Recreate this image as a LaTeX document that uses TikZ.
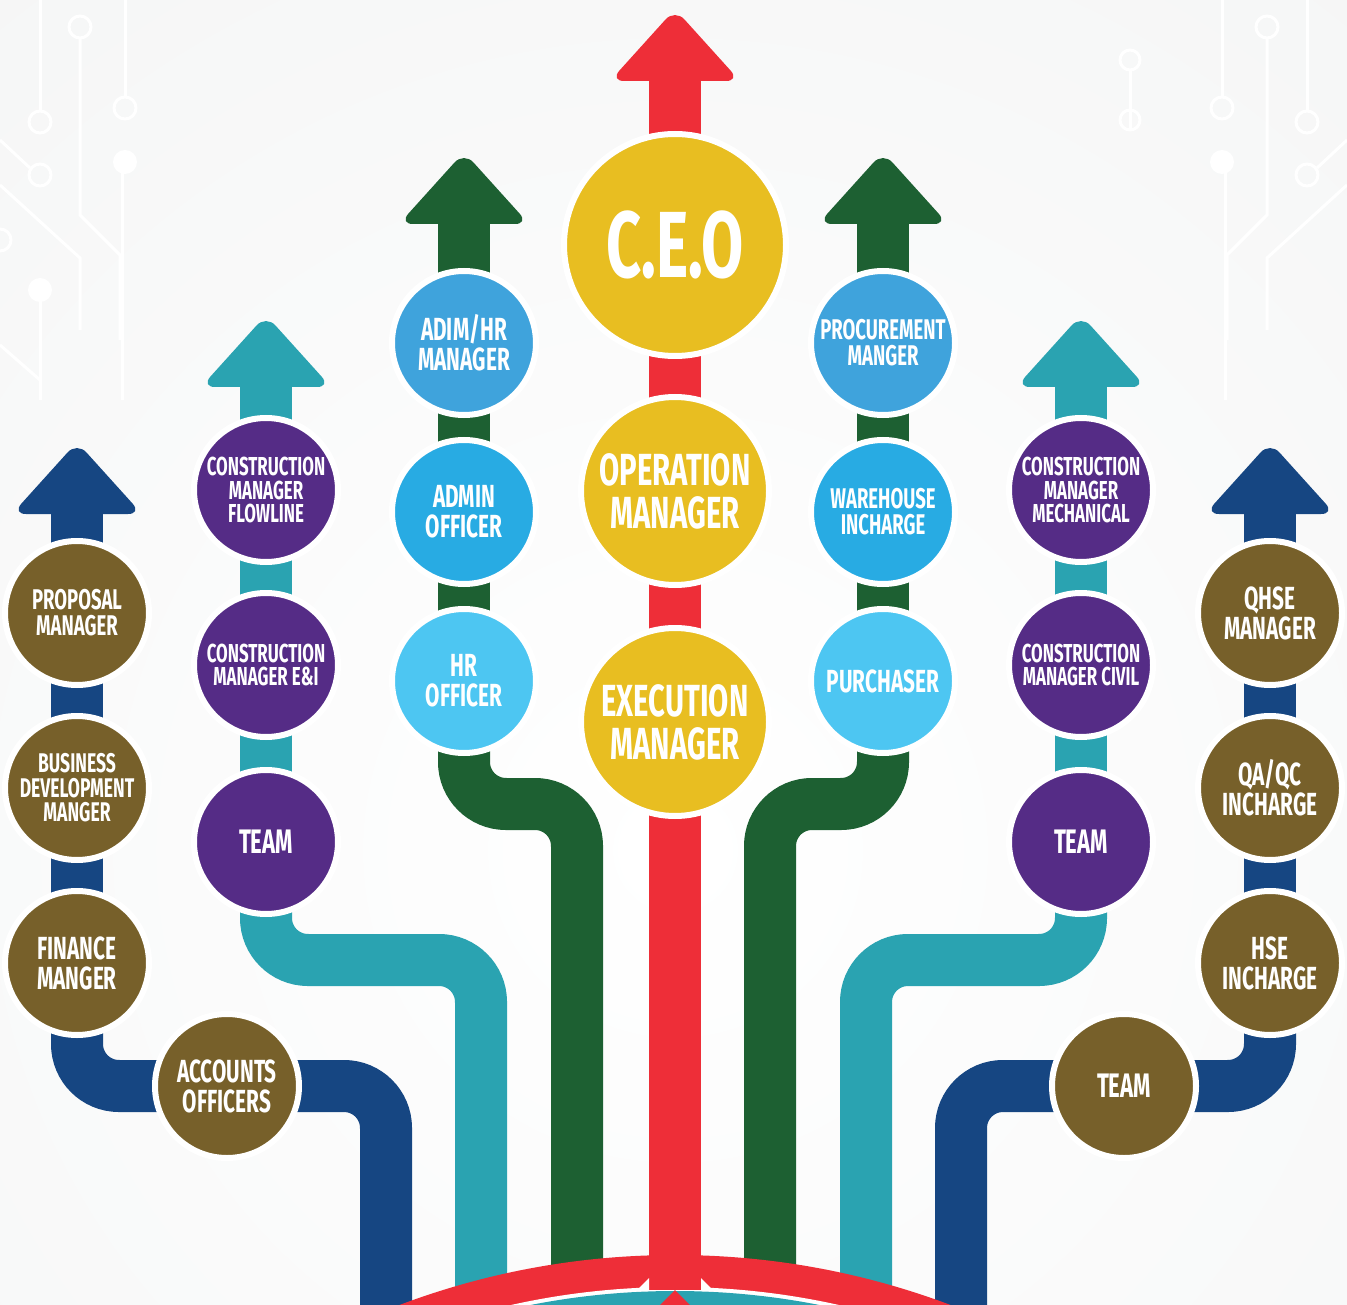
\documentclass[tikz,border=0pt]{standalone}
\usepackage{fontspec}
\newfontfamily\cf{Fira Sans}[FakeStretch=0.65]
\definecolor{bgc}{HTML}{F2F3F3}
\definecolor{navy}{HTML}{164682}
\definecolor{tealc}{HTML}{2AA3B1}
\definecolor{greenc}{HTML}{1D6032}
\definecolor{redc}{HTML}{EE2E38}
\definecolor{yell}{HTML}{E8BE21}
\definecolor{purp}{HTML}{552C86}
\definecolor{olv}{HTML}{77602A}
\definecolor{bluea}{HTML}{3FA3DC}
\definecolor{blueb}{HTML}{28ABE3}
\definecolor{bluec}{HTML}{4DC6F2}
\pgfdeclarelayer{bgl}
\pgfdeclarelayer{pipel}
\pgfsetlayers{bgl,pipel,main}
\tikzset{
  circ/.style={circle, inner sep=0pt, minimum size=144pt, draw=white, line width=6pt, text=white, align=center},
  txtA/.style={font=\cf\bfseries\fontsize{32}{30}\selectfont},
  txtT/.style={font=\cf\bfseries\fontsize{34}{30}\selectfont},
  txtB/.style={font=\cf\bfseries\fontsize{28.5}{26}\selectfont},
  txtC/.style={font=\cf\bfseries\fontsize{26}{23.5}\selectfont},
  txtD/.style={font=\cf\bfseries\fontsize{27}{24.5}\selectfont},
  pipe/.style={line width=52pt, line cap=butt, rounded corners=42pt},
  headshape/.style={rounded corners=14pt},
  trace/.style={white, line width=3pt},
}
\begin{document}
\begin{tikzpicture}[x=1pt,y=-1pt]
\useasboundingbox (0,0) rectangle (1347,1305);

% ---------- circles ----------
\node[circ, fill=olv, txtB] (prop) at (77,613) {PROPOSAL\\MANAGER};
\node[circ, fill=olv, txtD] (bdm) at (77,788) {BUSINESS\\DEVELOPMENT\\MANGER};
\node[circ, fill=olv, txtA] (fin) at (77,963) {FINANCE\\MANGER};
\node[circ, fill=olv, txtA] (acc) at (227,1086) {ACCOUNTS\\OFFICERS};

\node[circ, fill=purp, txtC] (cmf) at (266,490) {CONSTRUCTION\\MANAGER\\FLOWLINE};
\node[circ, fill=purp, txtC] (cme) at (266,665) {CONSTRUCTION\\MANAGER E\&I};
\node[circ, fill=purp, txtT] (teaml) at (266,842) {TEAM};

\node[circ, fill=bluea, txtA] (adhr) at (464,343) {ADIM/HR\\MANAGER};
\node[circ, fill=blueb, txtA] (admo) at (464,512) {ADMIN\\OFFICER};
\node[circ, fill=bluec, txtA] (hro) at (464,681) {HR\\OFFICER};

\node[circ, fill=yell, minimum size=222pt, font=\cf\bfseries\fontsize{94}{94}\selectfont] (ceo) at (675,245) {C.E.O};
\node[circ, fill=yell, minimum size=188pt, font=\cf\bfseries\fontsize{45}{43}\selectfont] (opm) at (675,491) {OPERATION\\MANAGER};
\node[circ, fill=yell, minimum size=188pt, font=\cf\bfseries\fontsize{45}{43}\selectfont] (exm) at (675,722) {EXECUTION\\MANAGER};

\node[circ, fill=bluea, txtB] (proc) at (883,343) {PROCUREMENT\\MANGER};
\node[circ, fill=blueb, txtB] (wh) at (883,512) {WAREHOUSE\\INCHARGE};
\node[circ, fill=bluec, txtA] (pur) at (883,681) {PURCHASER};

\node[circ, fill=purp, txtC] (cmm) at (1081,490) {CONSTRUCTION\\MANAGER\\MECHANICAL};
\node[circ, fill=purp, txtC] (cmc) at (1081,665) {CONSTRUCTION\\MANAGER CIVIL};
\node[circ, fill=purp, txtT] (teamr) at (1081,842) {TEAM};

\node[circ, fill=olv, txtA] (qhse) at (1270,613) {QHSE\\MANAGER};
\node[circ, fill=olv, txtA] (qaqc) at (1270,788) {QA/QC\\INCHARGE};
\node[circ, fill=olv, txtA] (hse) at (1270,963) {HSE\\INCHARGE};
\node[circ, fill=olv, txtT] (teamb) at (1124,1086) {TEAM};

% ---------- coordinates ----------
\coordinate (tL3) at (77,442);
\coordinate (tL2) at (266,315);
\coordinate (tL1) at (464,152);
\coordinate (tC) at (675,9);
\coordinate (tR1) at (883,152);
\coordinate (tR2) at (1081,315);
\coordinate (tR3) at (1270,442);
\coordinate (bL3) at (386,1305);
\coordinate (jL2) at (481,960);
\coordinate (bL2) at (481,1305);
\coordinate (jL1) at (577,804);
\coordinate (bL1) at (577,1305);
\coordinate (bC) at (675,1305);
\coordinate (jR1) at (770,804);
\coordinate (bR1) at (770,1305);
\coordinate (jR2) at (866,960);
\coordinate (bR2) at (866,1305);
\coordinate (bR3) at (961,1305);

% ---------- background ----------
\begin{pgfonlayer}{bgl}
  \fill[bgc] (0,0) rectangle (1347,1305);
  \begin{scope}
    \clip (0,0) rectangle (1347,1305);
    \shade[inner color=white, outer color=bgc] (675,850) circle (1500);
    % faint circuit traces, top left
    \draw[trace] (40,0) -- (40,110); \draw[trace] (40,122) circle (11);
    \draw[trace] (80,38) -- (80,215) -- (120,255) -- (120,340); \draw[trace] (80,27) circle (11);
    \draw[trace] (125,0) -- (125,97); \draw[trace] (125,108) circle (11);
    \fill[white] (125,162) circle (12); \draw[trace] (122,162) -- (122,400);
    \draw[trace] (0,140) -- (30,168); \draw[trace] (40,175) circle (11);
    \draw[trace] (0,185) -- (80,258) -- (80,330);
    \draw[trace] (0,240) circle (11);
    \fill[white] (40,290) circle (12); \draw[trace] (40,290) -- (40,400);
    \draw[trace] (0,345) -- (40,380);
    % faint circuit traces, top right
    \draw[trace] (1307,0) -- (1307,110); \draw[trace] (1307,122) circle (11);
    \draw[trace] (1267,38) -- (1267,215) -- (1227,255) -- (1227,340); \draw[trace] (1267,27) circle (11);
    \draw[trace] (1222,0) -- (1222,97); \draw[trace] (1222,108) circle (11);
    \fill[white] (1222,162) circle (12); \draw[trace] (1225,162) -- (1225,400);
    \draw[trace] (1347,140) -- (1317,168); \draw[trace] (1307,175) circle (11);
    \draw[trace] (1347,185) -- (1267,258) -- (1267,330);
    \draw[trace] (1130,60) circle (10); \draw[trace] (1130,70) -- (1130,130);
    \draw[trace] (1130,120) circle (10);
  \end{scope}
\end{pgfonlayer}

% ---------- pipes, arrows ----------
\begin{pgfonlayer}{pipel}
  % left outer (navy)
  \fill[navy, headshape] (tL3) -- ++(65,72) -- ++(-130,0) -- cycle;
  \draw[pipe, navy] (tL3) ++(0,60) -- (prop.center);
  \draw[pipe, navy] (prop.center) -- (bdm.center);
  \draw[pipe, navy] (bdm.center) -- (fin.center);
  \draw[pipe, navy] (fin.center) |- (acc.center);
  \draw[pipe, navy] (acc.center) -| (bL3);
  % left middle (teal)
  \fill[tealc, headshape] (tL2) -- ++(65,72) -- ++(-130,0) -- cycle;
  \draw[pipe, tealc] (tL2) ++(0,60) -- (cmf.center);
  \draw[pipe, tealc] (cmf.center) -- (cme.center);
  \draw[pipe, tealc] (cme.center) -- (teaml.center);
  \draw[pipe, tealc] (teaml.center) |- (jL2) -- (bL2);
  % left inner (green)
  \fill[greenc, headshape] (tL1) -- ++(65,72) -- ++(-130,0) -- cycle;
  \draw[pipe, greenc] (tL1) ++(0,60) -- (adhr.center);
  \draw[pipe, greenc] (adhr.center) -- (admo.center);
  \draw[pipe, greenc] (admo.center) -- (hro.center);
  \draw[pipe, greenc] (hro.center) |- (jL1) -- (bL1);
  % centre (red)
  \fill[redc, headshape] (tC) -- ++(65,72) -- ++(-130,0) -- cycle;
  \draw[pipe, redc] (tC) ++(0,60) -- (ceo.center);
  \draw[pipe, redc] (ceo.center) -- (opm.center);
  \draw[pipe, redc] (opm.center) -- (exm.center);
  \draw[pipe, redc] (exm.center) -- (bC);
  % right inner (green)
  \fill[greenc, headshape] (tR1) -- ++(65,72) -- ++(-130,0) -- cycle;
  \draw[pipe, greenc] (tR1) ++(0,60) -- (proc.center);
  \draw[pipe, greenc] (proc.center) -- (wh.center);
  \draw[pipe, greenc] (wh.center) -- (pur.center);
  \draw[pipe, greenc] (pur.center) |- (jR1) -- (bR1);
  % right middle (teal)
  \fill[tealc, headshape] (tR2) -- ++(65,72) -- ++(-130,0) -- cycle;
  \draw[pipe, tealc] (tR2) ++(0,60) -- (cmm.center);
  \draw[pipe, tealc] (cmm.center) -- (cmc.center);
  \draw[pipe, tealc] (cmc.center) -- (teamr.center);
  \draw[pipe, tealc] (teamr.center) |- (jR2) -- (bR2);
  % right outer (navy)
  \fill[navy, headshape] (tR3) -- ++(65,72) -- ++(-130,0) -- cycle;
  \draw[pipe, navy] (tR3) ++(0,60) -- (qhse.center);
  \draw[pipe, navy] (qhse.center) -- (qaqc.center);
  \draw[pipe, navy] (qaqc.center) -- (hse.center);
  \draw[pipe, navy] (hse.center) |- (teamb.center);
  \draw[pipe, navy] (teamb.center) -| (bR3);
  % bottom arcs
  \begin{scope}
    \clip (0,0) rectangle (1347,1305);
    \fill[redc] (675,2036) circle (781);
    \fill[white] (675,2036) circle (749);
    \fill[tealc] (675,2036) circle (745);
    \fill[redc] (649,1240) rectangle (701,1290);
    \fill[white] (636,1291) -- (649,1278) -- (649,1291) -- cycle;
    \fill[white] (714,1291) -- (701,1278) -- (701,1291) -- cycle;
    \fill[redc] (660,1305) -- (675,1290) -- (690,1305) -- cycle;
  \end{scope}
\end{pgfonlayer}
\end{tikzpicture}
\end{document}
